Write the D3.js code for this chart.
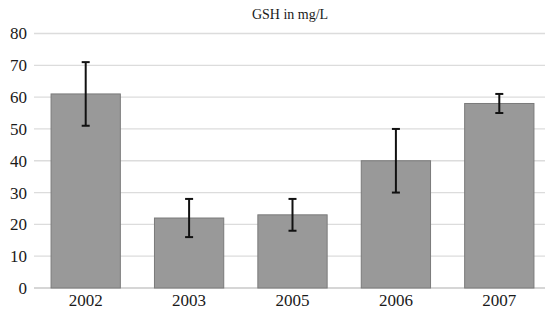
<!DOCTYPE html>
<html>
<head>
<meta charset="utf-8">
<script src="https://cdn.jsdelivr.net/npm/d3@7"></script>
<style>
  body { margin: 0; background: #fff; }
</style>
</head>
<body>
<svg id="chart" width="545" height="309" font-family="'Liberation Serif', 'Times New Roman', 'DejaVu Serif', serif"></svg>
<script>
// chart values
var years = ["2002", "2003", "2005", "2006", "2007"];
var gsh = [61, 22, 23, 40, 58];
var errLow = [51, 16, 18, 30, 55];
var errHigh = [71, 28, 28, 50, 61];
var yTicks = [0, 10, 20, 30, 40, 50, 60, 70, 80];

var svg = d3.select("svg#chart");

var x = d3.scaleBand()
	.domain(years)
	.range([34, 551])
	.paddingInner(0.33)
	.paddingOuter(0.165);

var y = d3.scaleLinear()
	.domain([0, 80])
	.range([288, 33.5]);

// gridlines
svg.append("g")
	.selectAll("line")
	.data(yTicks)
	.enter().append("line")
	.attr("x1", 34)
	.attr("x2", 545)
	.attr("y1", d => y(d))
	.attr("y2", d => y(d))
	.attr("stroke", d => d === 0 ? "#c8c8c8" : "#dcdcdc")
	.attr("stroke-width", 1.3);

// y axis labels
svg.append("g")
	.selectAll("text")
	.data(yTicks)
	.enter().append("text")
	.attr("x", 27)
	.attr("y", d => y(d))
	.attr("dy", "0.35em")
	.attr("text-anchor", "end")
	.attr("fill", "#1a1a1a")
	.style("font-size", "17px")
	.text(d => d);

// bars
svg.append("g")
	.selectAll("rect")
	.data(years)
	.enter().append("rect")
	.attr("x", d => x(d))
	.attr("y", (d, i) => y(gsh[i]))
	.attr("width", x.bandwidth())
	.attr("height", (d, i) => y(0) - y(gsh[i]))
	.attr("fill", "#999999")
	.attr("stroke", "#7a7a7a")
	.attr("stroke-width", 1);

// error bars
var err = svg.append("g");
years.forEach(function (yr, i) {
	var cx = x(yr) + x.bandwidth() / 2;
	err.append("line")
		.attr("x1", cx).attr("x2", cx)
		.attr("y1", y(errLow[i])).attr("y2", y(errHigh[i]))
		.attr("stroke", "#111").attr("stroke-width", 2);
	[errLow[i], errHigh[i]].forEach(function (v) {
		err.append("line")
			.attr("x1", cx - 4).attr("x2", cx + 4)
			.attr("y1", y(v)).attr("y2", y(v))
			.attr("stroke", "#111").attr("stroke-width", 2);
	});
});

// x labels
svg.append("g")
	.selectAll("text")
	.data(years)
	.enter().append("text")
	.attr("x", d => x(d) + x.bandwidth() / 2)
	.attr("y", 306)
	.attr("text-anchor", "middle")
	.attr("fill", "#1a1a1a")
	.style("font-size", "17px")
	.text(d => d);

// title
svg.append("text")
	.attr("x", 290)
	.attr("y", 19)
	.attr("text-anchor", "middle")
	.attr("fill", "#1a1a1a")
	.style("font-size", "14px")
	.text("GSH in mg/L");
</script>
</body>
</html>
